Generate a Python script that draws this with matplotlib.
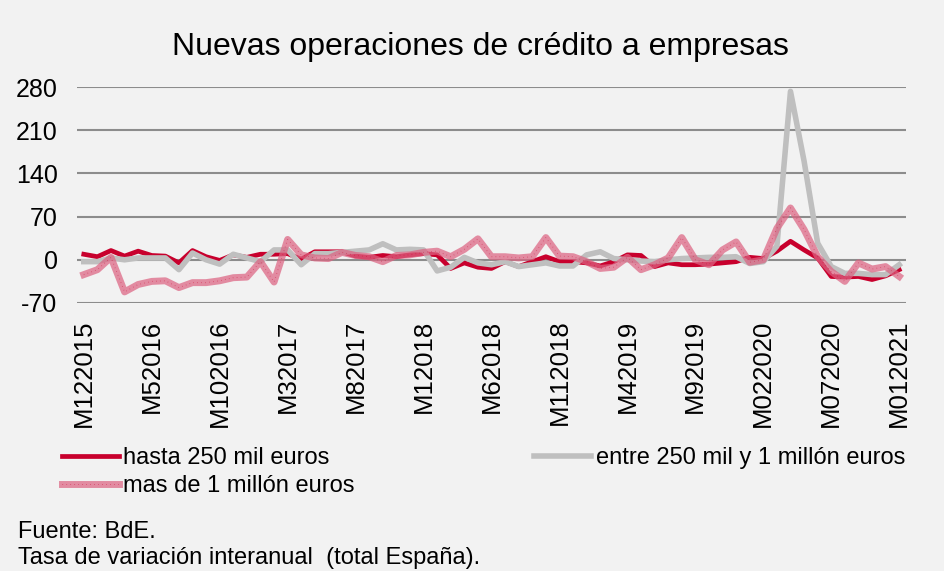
import numpy as np
import matplotlib
matplotlib.use('Agg')
import matplotlib.pyplot as plt

plt.rcParams['font.family'] = ['Liberation Sans', 'DejaVu Sans']

# Monthly series, M122015 .. M012021 (61 points)
tick_labels = ['M122015', 'M52016', 'M102016', 'M32017', 'M82017', 'M12018', 'M62018',
               'M112018', 'M42019', 'M92019', 'M022020', 'M072020', 'M012021']

hasta_250 = [9, 5, 15, 6, 14, 7, 6, -5, 15, 5,
             -1, 8, 4, 9, 9, 10, 1, 13, 13, 13,
             6, 4, 7, 5, 8, 10, 8, -14, -5, -12,
             -14, -3, -11, -3, 5, -3, -3, -5, -10, -3,
             8, 7, -11, -5, -8, -8, -7, -5, -3, 4,
             2, 14, 30, 16, 3, -27, -28, -27, -32, -26,
             -16]

entre_250_1m = [-3, -3, 3, 0, 3, 3, 3, -16, 11, 0,
                -7, 9, 3, -3, 16, 16, -8, 10, 10, 12,
                14, 16, 26, 16, 17, 16, -18, -12, 4, -5,
                -8, -3, -11, -8, -5, -10, -10, 8, 13, 2,
                0, -2, -3, 0, 2, 3, 4, 4, 5, -6,
                -3, 22, 273, 160, 27, -11, -22, -22, -24, -24,
                -8]

mas_1m = [-24, -16, 4, -52, -40, -35, -34, -45, -37, -37,
          -34, -29, -28, -3, -36, 33, 8, 3, 2, 12,
          7, 5, -3, 7, 8, 12, 14, 5, 17, 34,
          5, 5, 3, 5, 36, 6, 5, -3, -14, -12,
          4, -16, -8, 3, 36, 0, -8, 16, 29, -4,
          0, 51, 84, 49, 5, -19, -35, -5, -15, -11,
          -27]

y_ticks = [-70, 0, 70, 140, 210, 280]

bg = '#f2f2f2'
fig = plt.figure(figsize=(9.45, 5.71), dpi=100, facecolor=bg)
ax = fig.add_axes([77 / 945, 1 - 303 / 571, 829 / 945, 216 / 571])
ax.set_facecolor(bg)

x = np.arange(len(hasta_250))

h_red, = ax.plot(x, hasta_250, color='#c8002d', lw=3.4, zorder=3)
h_gray, = ax.plot(x, entre_250_1m, color='#bfbfbf', lw=4.0, zorder=4)
h_pink1, = ax.plot(x, mas_1m, color='#dc6482', alpha=0.72, lw=5.0, zorder=5)
h_pink2, = ax.plot(x, mas_1m, color='#c8002d', alpha=0.6, lw=0.7,
                   linestyle=(0, (0.6, 3.5)), zorder=6)

ax.set_xlim(-0.5, len(x) - 0.5)
ax.set_ylim(-70, 280)
ax.set_yticks(y_ticks)
ax.set_yticklabels([str(v) for v in y_ticks], fontsize=18)
ax.set_xticks(x[::5])
ax.set_xticklabels(tick_labels, rotation=90, fontsize=18.5)
ax.tick_params(axis='both', length=0, colors='black')
ax.tick_params(axis='x', pad=12)
ax.tick_params(axis='y', pad=14)
ax.grid(axis='y', color='#8c8c8c', lw=1.5, zorder=1)
for s in ax.spines.values():
    s.set_visible(False)

fig.text(480 / 945, 1 - 47 / 571, 'Nuevas operaciones de crédito a empresas',
         ha='center', va='center', fontsize=23)

fig.legend([h_red, (h_pink1, h_pink2), h_gray],
           ['hasta 250 mil euros', 'mas de 1 millón euros', 'entre 250 mil y 1 millón euros'],
           ncol=2, mode='expand', loc='upper left',
           bbox_to_anchor=(62 / 945, 0, 843 / 945, 1 - 447 / 571),
           frameon=False, fontsize=17, handlelength=2.4, handletextpad=0.2,
           labelspacing=0.25, borderpad=0, borderaxespad=0)

fig.text(18 / 945, 1 - 532 / 571, 'Fuente: BdE.', ha='left', va='center', fontsize=17)
fig.text(18 / 945, 1 - 558 / 571, 'Tasa de variación interanual  (total España).',
         ha='left', va='center', fontsize=17)

fig.savefig('out.png', dpi=100, facecolor=bg)
